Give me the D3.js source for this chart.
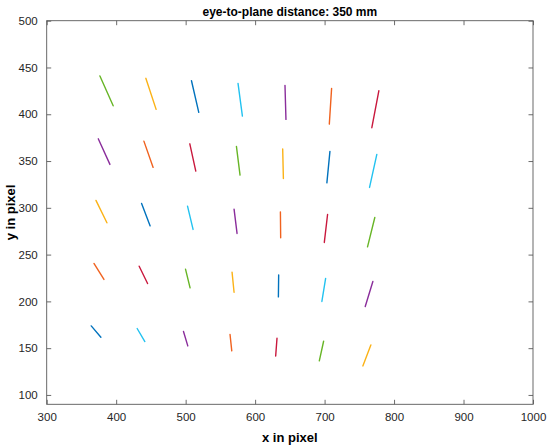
<!DOCTYPE html>
<html>
<head>
<meta charset="utf-8">
<script src="https://cdn.jsdelivr.net/npm/d3@7"></script>
<style>
  body { margin: 0; background: #fff; }
  text { font-family: "Liberation Sans", Arial, Helvetica, sans-serif; }
</style>
</head>
<body>
<div id="chart"></div>
<script>
// segments, column by column (left to right), each column bottom to top
var xStart = [364.1, 368.0, 370.9, 374.2, 376.6,
              430.2, 433.1, 436.6, 439.9, 442.7,
              496.9, 499.8, 502.7, 506.0, 508.4,
              563.9, 566.8, 569.7, 573.1, 575.4,
              631.5, 633.9, 636.4, 639.7, 643.0,
              698.6, 701.5, 704.3, 707.7, 710.1,
              766.6, 769.5, 772.3, 775.2, 778.1];
var yStart = [173.8, 240.5, 307.9, 373.8, 440.9,
              171.0, 237.6, 304.7, 371.3, 438.4,
              167.8, 234.4, 301.8, 368.4, 435.8,
              164.6, 231.2, 298.6, 365.7, 433.0,
              160.6, 228.3, 295.7, 362.8, 430.9,
              157.4, 224.5, 292.9, 360.3, 427.7,
              153.5, 221.3, 289.7, 357.1, 425.1];
var xEnd   = [378.0, 382.4, 386.7, 391.0, 395.7,
              441.3, 445.2, 448.9, 453.2, 457.5,
              503.1, 506.4, 510.7, 514.6, 518.9,
              566.4, 569.7, 574.0, 578.3, 581.7,
              629.6, 633.5, 636.8, 640.7, 644.4,
              692.4, 696.1, 699.6, 703.3, 706.8,
              755.1, 758.5, 761.8, 764.7, 768.0];
var yEnd   = [161.7, 223.4, 284.0, 346.4, 409.1,
              157.1, 219.1, 280.7, 343.2, 405.2,
              152.4, 214.4, 276.9, 339.3, 402.0,
              147.1, 209.8, 272.6, 335.0, 398.1,
              141.7, 204.8, 267.9, 331.4, 394.5,
              136.4, 199.9, 263.0, 326.7, 389.5,
              131.0, 194.5, 258.3, 321.8, 385.6];

var colorOrder = ['#0072BD', '#F0621F', '#FBB216', '#8A2D9B', '#67B526', '#22C2F0', '#C9183D'];

var xTicks = [300, 400, 500, 600, 700, 800, 900, 1000];
var yTicks = [100, 150, 200, 250, 300, 350, 400, 450, 500];

var titleText = 'eye-to-plane distance: 350 mm';
var xLabel = 'x in pixel';
var yLabel = 'y in pixel';

var width = 550, height = 448;
var plotLeft = 46.7, plotRight = 533, plotTop = 20.7, plotBottom = 404.3;

var svg = d3.select('#chart').append('svg').attr('width', width).attr('height', height);

var x = d3.scaleLinear().domain([300, 1000]).range([plotLeft, plotRight]);
var y = d3.scaleLinear().domain([90, 500]).range([plotBottom, plotTop]);

var axisColor = '#5a5a5a';
var labelColor = '#262626';

function styleAxis(g) {
    g.select('.domain').remove();
    g.selectAll('.tick line').attr('stroke', axisColor).attr('stroke-width', 0.9);
    g.selectAll('.tick text').attr('fill', labelColor).style('font-size', '11.5px');
}

// bottom + top
svg.append('g').attr('transform', 'translate(0,' + plotBottom + ')')
    .call(d3.axisBottom(x).tickValues(xTicks).tickSizeInner(-4.5).tickPadding(9).tickFormat(d3.format('d')))
    .call(styleAxis);
svg.append('g').attr('transform', 'translate(0,' + plotTop + ')')
    .call(d3.axisTop(x).tickValues(xTicks).tickSizeInner(-4.5).tickFormat(''))
    .call(styleAxis);
// left + right
svg.append('g').attr('transform', 'translate(' + plotLeft + ',0)')
    .call(d3.axisLeft(y).tickValues(yTicks).tickSizeInner(-4.5).tickPadding(9).tickFormat(d3.format('d')))
    .call(styleAxis);
svg.append('g').attr('transform', 'translate(' + plotRight + ',0)')
    .call(d3.axisRight(y).tickValues(yTicks).tickSizeInner(-4.5).tickFormat(''))
    .call(styleAxis);

// box
svg.append('rect')
    .attr('x', plotLeft).attr('y', plotTop)
    .attr('width', plotRight - plotLeft).attr('height', plotBottom - plotTop)
    .attr('fill', 'none').attr('stroke', axisColor).attr('stroke-width', 0.9);

// segments
svg.append('g').selectAll('line')
    .data(d3.range(xStart.length))
    .enter()
    .append('line')
    .attr('x1', function(i) { return x(xStart[i]); })
    .attr('y1', function(i) { return y(yStart[i]); })
    .attr('x2', function(i) { return x(xEnd[i]); })
    .attr('y2', function(i) { return y(yEnd[i]); })
    .attr('stroke', function(i) { return colorOrder[i % colorOrder.length]; })
    .attr('stroke-width', 1.4)
    .attr('stroke-linecap', 'round');

// labels
svg.append('text')
    .attr('x', (plotLeft + plotRight) / 2).attr('y', 15.5)
    .attr('text-anchor', 'middle')
    .style('font-size', '12px').style('font-weight', 'bold')
    .attr('fill', '#000')
    .text(titleText);

svg.append('text')
    .attr('x', (plotLeft + plotRight) / 2).attr('y', 442)
    .attr('text-anchor', 'middle')
    .style('font-size', '13px').style('font-weight', 'bold')
    .attr('fill', '#000')
    .text(xLabel);

svg.append('text')
    .attr('transform', 'translate(15,' + (plotTop + plotBottom) / 2 + ') rotate(-90)')
    .attr('text-anchor', 'middle')
    .style('font-size', '13px').style('font-weight', 'bold')
    .attr('fill', '#000')
    .text(yLabel);
</script>
</body>
</html>
